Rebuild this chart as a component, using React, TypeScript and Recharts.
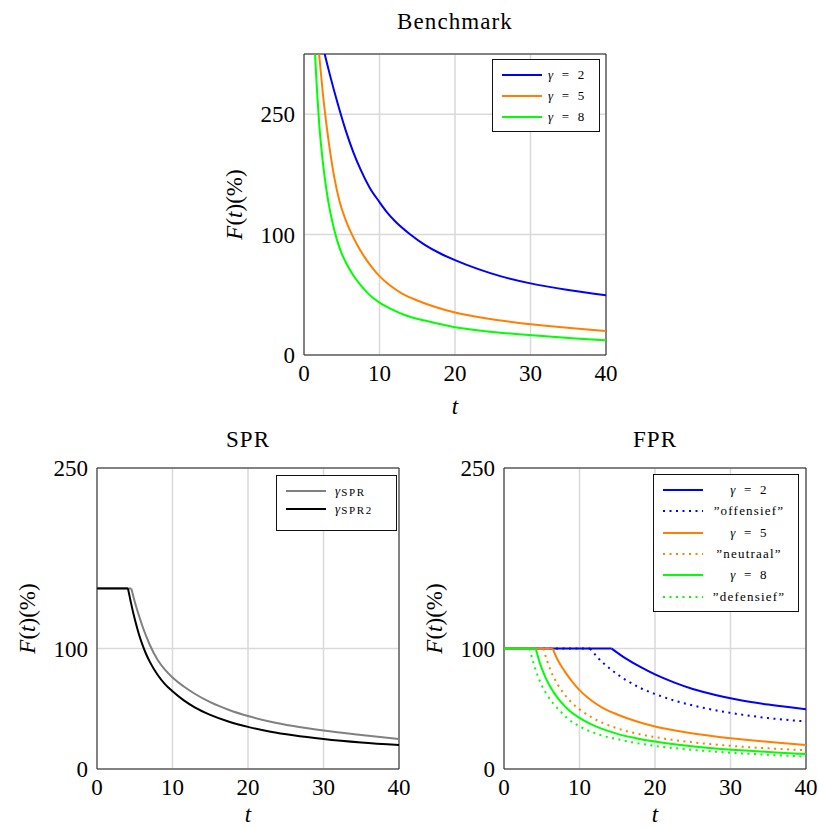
import React from "react";
import { LineChart, Line, XAxis, YAxis, CartesianGrid, ReferenceArea, Legend } from "recharts";

type Pt = [number, number];

const FONT = '"Liberation Serif", "Times New Roman", serif';

// axes
const T_TICKS = [0, 10, 20, 30, 40];
const T_DOMAIN: [number, number] = [0, 40];
const F_DOMAIN: [number, number] = [0, 250];
const benchTickValues = [0, 100, 200];
const benchTickLabels = ["0", "100", "250"];
const lowerTickValues = [0, 100, 250];
const lowerTickLabels = ["0", "100", "250"];

// Benchmark
const benchG2: Pt[] = [[2.3, 261], [2.74, 250], [3.5, 231], [4.5, 208], [5.5, 187], [6.5, 169], [7.5, 154], [8.7, 139], [10, 127], [11, 118.5], [12, 111.5], [14, 100.5], [16, 91.5], [18, 84.5], [20, 78.8], [23, 71.5], [26, 65.5], [30, 59.5], [35, 54], [40, 49.7]];
const benchG5: Pt[] = [[1.8, 264], [2.0, 250], [2.5, 217], [3.0, 190], [3.5, 167], [4.0, 148], [4.73, 127], [5.5, 112.5], [6.2, 102], [7.0, 92], [8.0, 81.5], [9.0, 72.8], [10, 65.5], [11, 59.8], [12, 55], [13, 51], [15, 45.3], [17.5, 39.7], [20, 35.3], [24, 30.5], [28, 27], [32, 24.3], [36, 22], [40, 20]];
const benchG8: Pt[] = [[1.3, 272], [1.46, 250], [1.7, 222], [2.0, 193], [2.5, 160], [3.0, 136], [3.5, 118], [4.0, 104], [4.73, 88.5], [5.5, 77.5], [6.5, 66.5], [7.5, 58], [8.5, 51], [10, 43.5], [11.5, 38.3], [13.6, 32.6], [16, 28.6], [20, 23], [24, 19.8], [28, 17.5], [32, 15.5], [36, 13.8], [40, 12.3]];

// SPR
const sprFlat: Pt[] = [[0, 150], [4.54, 150]];
const sprDecay: Pt[] = [[4.54, 150], [5.0, 139], [5.5, 128.5], [6.0, 119], [6.5, 110.5], [7.0, 103], [8.0, 91], [9, 82.5], [10, 76], [11.5, 68.5], [13, 62.3], [15, 55.5], [17.5, 49], [20, 44], [23, 39.3], [26, 35.7], [30, 32], [35, 28.3], [40, 25]];
const spr2Flat: Pt[] = [[0, 150], [4.1, 150]];
const spr2Decay: Pt[] = [[4.1, 150], [4.5, 138], [5.0, 124.5], [5.5, 113], [6.0, 103.5], [6.5, 95.5], [7.0, 89], [8.0, 78.5], [9, 70.5], [10, 64.5], [11.5, 57], [13, 51], [15, 45], [17.5, 39.3], [20, 35], [23, 31], [26, 28], [30, 24.9], [35, 22], [40, 19.9]];

// FPR
const fprG2Flat: Pt[] = [[0, 100], [14.26, 100]];
const fprG2Decay: Pt[] = [[14.26, 100], [16, 92.3], [18, 85], [20, 78.6], [22.5, 72], [25, 66.5], [28, 61.5], [31, 57.5], [35, 53.5], [40, 49.7]];
const fprOffFlat: Pt[] = [[0, 100], [11.4, 100]];
const fprOffDecay: Pt[] = [[11.4, 100], [12.5, 92], [14, 83.5], [16, 74.5], [18, 67.5], [20, 62.3], [22.5, 57], [25, 52.8], [28, 48.8], [31, 45.6], [35, 42.3], [40, 39.5]];
const fprG5Flat: Pt[] = [[0, 100], [6.45, 100]];
const fprG5Decay: Pt[] = [[6.45, 100], [7, 92], [8, 81.5], [9, 72.8], [10, 65.5], [11, 59.8], [12, 55], [13, 51], [15, 45.3], [17.5, 39.7], [20, 35.3], [24, 30.5], [28, 27], [32, 24.3], [36, 22], [40, 20]];
const fprNeuFlat: Pt[] = [[0, 100], [5.2, 100]];
const fprNeuDecay: Pt[] = [[5.2, 100], [5.7, 90], [6.2, 81.5], [7, 71.5], [8, 62], [9, 55], [10, 49.5], [11.5, 43.3], [13, 38.5], [15, 33.8], [17.5, 29.5], [20, 26.5], [24, 22.8], [28, 20.3], [32, 18.3], [36, 16.8], [40, 15.6]];
const fprG8Flat: Pt[] = [[0, 100], [4.2, 100]];
const fprG8Decay: Pt[] = [[4.2, 100], [4.7, 89], [5.2, 80.5], [5.8, 72], [6.5, 64.5], [7.5, 56], [8.5, 49.5], [10, 42.5], [11.5, 37.3], [13, 33.3], [15, 29.2], [17.5, 25.6], [20, 22.8], [24, 19.5], [28, 17.1], [32, 15.3], [36, 13.8], [40, 12.4]];
const fprDefFlat: Pt[] = [[0, 100], [3.4, 100]];
const fprDefDecay: Pt[] = [[3.4, 100], [3.9, 88], [4.4, 78.5], [5, 69.5], [5.7, 61.5], [6.5, 54.5], [7.5, 47.8], [8.5, 41.5], [10, 35.5], [11.5, 31], [13, 27.7], [15, 24.8], [17.5, 21.6], [20, 19.2], [24, 16.4], [28, 14.4], [32, 12.8], [36, 11.5], [40, 10.3]];

const BLUE = "#0000ff";
const ORANGE = "#ff8000";
const GREEN = "#00ff00";
const GRAY = "#808080";
const BLACK = "#000000";
const DOT = "2 4.5";

type Seg = { pts: Pt[]; curve: "linear" | "monotone" };
type Series = { key: string; color: string; dash?: string; label: React.ReactNode; segs: Seg[] };

const gammaLabel = (n: string) => (
  <span style={{ wordSpacing: 3 }}>
    <span style={{ fontStyle: "italic" }}>γ</span> = {n}
  </span>
);
const subLabel = (s: string) => (
  <span>
    <span style={{ fontStyle: "italic" }}>γ</span>
    <span style={{ fontSize: 11, letterSpacing: 1.6, position: "relative", top: 1 }}>{s}</span>
  </span>
);

const benchSeries: Series[] = [
  { key: "b2", color: BLUE, label: gammaLabel("2"), segs: [{ pts: benchG2, curve: "monotone" }] },
  { key: "b5", color: ORANGE, label: gammaLabel("5"), segs: [{ pts: benchG5, curve: "monotone" }] },
  { key: "b8", color: GREEN, label: gammaLabel("8"), segs: [{ pts: benchG8, curve: "monotone" }] },
];
const sprSeries: Series[] = [
  { key: "s1", color: GRAY, label: subLabel("SPR"), segs: [{ pts: sprFlat, curve: "linear" }, { pts: sprDecay, curve: "monotone" }] },
  { key: "s2", color: BLACK, label: subLabel("SPR2"), segs: [{ pts: spr2Flat, curve: "linear" }, { pts: spr2Decay, curve: "monotone" }] },
];
const fprSeries: Series[] = [
  { key: "f2", color: BLUE, label: gammaLabel("2"), segs: [{ pts: fprG2Flat, curve: "linear" }, { pts: fprG2Decay, curve: "monotone" }] },
  { key: "fo", color: BLUE, dash: DOT, label: "\u201Doffensief\u201D", segs: [{ pts: fprOffFlat, curve: "linear" }, { pts: fprOffDecay, curve: "monotone" }] },
  { key: "f5", color: ORANGE, label: gammaLabel("5"), segs: [{ pts: fprG5Flat, curve: "linear" }, { pts: fprG5Decay, curve: "monotone" }] },
  { key: "fn", color: ORANGE, dash: DOT, label: "\u201Dneutraal\u201D", segs: [{ pts: fprNeuFlat, curve: "linear" }, { pts: fprNeuDecay, curve: "monotone" }] },
  { key: "f8", color: GREEN, label: gammaLabel("8"), segs: [{ pts: fprG8Flat, curve: "linear" }, { pts: fprG8Decay, curve: "monotone" }] },
  { key: "fd", color: GREEN, dash: DOT, label: "\u201Ddefensief\u201D", segs: [{ pts: fprDefFlat, curve: "linear" }, { pts: fprDefDecay, curve: "monotone" }] },
];

const toRows = (pts: Pt[]) => pts.map(([t, f]) => ({ t, f }));

type LegendBox = { left: number; top: number; width: number; height: number; firstRow: number; rowGap: number; textLeft: number; textAlign: "left" | "center"; textWidth: number };

function LegendContent({ series, box }: { series: Series[]; box: LegendBox }) {
  return (
    <div
      style={{
        position: "relative",
        width: box.width,
        height: box.height,
        boxSizing: "border-box",
        border: "1px solid #111",
        background: "#fff",
        fontFamily: FONT,
        fontSize: 13,
        letterSpacing: 1.2,
        color: "#000",
      }}
    >
      {series.map((s, i) => {
        const cy = box.firstRow + i * box.rowGap - 1;
        return (
          <div key={s.key} style={{ position: "absolute", left: 0, top: cy - 10, height: 20, width: box.width - 2 }}>
            <svg width={42} height={20} style={{ position: "absolute", left: 7.5, top: 0 }}>
              <line x1={1} y1={10} x2={41} y2={10} stroke={s.color} strokeWidth={2} strokeDasharray={s.dash} />
            </svg>
            <div
              style={{
                position: "absolute",
                left: box.textLeft,
                width: box.textWidth,
                top: 0,
                height: 20,
                lineHeight: "20px",
                textAlign: box.textAlign,
                whiteSpace: "nowrap",
              }}
            >
              {s.label}
            </div>
          </div>
        );
      })}
    </div>
  );
}

type PanelProps = {
  left: number;
  top: number;
  width: number;
  height: number;
  marginTop: number;
  marginRight: number;
  yAxisWidth: number;
  xAxisHeight: number;
  xLabelOffset: number;
  title: string;
  titleTop: number;
  yTicks: number[];
  yTickLabels: string[];
  series: Series[];
  legend: LegendBox;
};

function Panel(p: PanelProps) {
  const plotW = p.width - p.marginRight - p.yAxisWidth;
  const plotH = p.height - p.marginTop - p.xAxisHeight;
  const plotLeft = p.yAxisWidth;
  const plotCx = plotLeft + plotW / 2;
  const yLabX = plotLeft - 62;
  const yLabY = p.marginTop + plotH / 2;
  const xLabY = p.marginTop + plotH + p.xLabelOffset;

  return (
    <div style={{ position: "absolute", left: p.left, top: p.top, width: p.width, height: p.height }}>
      <div
        style={{
          position: "absolute",
          left: plotCx - 100,
          width: 200,
          top: p.titleTop,
          textAlign: "center",
          fontFamily: FONT,
          fontSize: 23,
          letterSpacing: 1.1,
          lineHeight: 1,
          color: "#000",
        }}
      >
        {p.title}
      </div>
      <LineChart width={p.width} height={p.height} margin={{ top: p.marginTop, right: p.marginRight, bottom: 0, left: 0 }}>
        <CartesianGrid stroke="#d9d9d9" strokeWidth={1.5} />
        <XAxis
          type="number"
          dataKey="t"
          domain={T_DOMAIN}
          ticks={T_TICKS}
          allowDataOverflow
          height={p.xAxisHeight}
          axisLine={false}
          tickLine={false}
          tickSize={6}
          tickMargin={4}
          tick={{ fontSize: 23, fontFamily: FONT, fill: "#000" }}
          label={{
            content: () => (
              <text x={plotCx} y={xLabY} textAnchor="middle" fontFamily={FONT} fontSize={23} fontStyle="italic" fill="#000">
                t
              </text>
            ),
          }}
        />
        <YAxis
          type="number"
          domain={F_DOMAIN}
          ticks={p.yTicks}
          allowDataOverflow
          width={p.yAxisWidth}
          axisLine={false}
          tickLine={false}
          tickSize={6}
          tickMargin={3}
          tick={{ fontSize: 23, fontFamily: FONT, fill: "#000" }}
          tickFormatter={(v: number) => {
            const i = p.yTicks.indexOf(v);
            return i >= 0 ? p.yTickLabels[i] : String(v);
          }}
          label={{
            content: () => (
              <text
                x={yLabX}
                y={yLabY}
                transform={`rotate(-90 ${yLabX} ${yLabY})`}
                textAnchor="middle"
                fontFamily={FONT}
                fontSize={23}
                fill="#000"
              >
                <tspan fontStyle="italic">F</tspan>
                <tspan>(</tspan>
                <tspan fontStyle="italic">t</tspan>
                <tspan>)(%)</tspan>
              </text>
            ),
          }}
        />
        {p.series.flatMap((s) =>
          s.segs.map((seg, j) => (
            <Line
              key={`${s.key}-${j}`}
              data={toRows(seg.pts)}
              dataKey="f"
              name={`${s.key}-${j}`}
              type={seg.curve}
              stroke={s.color}
              strokeWidth={2}
              strokeDasharray={s.dash}
              dot={false}
              activeDot={false}
              isAnimationActive={false}
              legendType="none"
            />
          ))
        )}
        <ReferenceArea x1={0} x2={40} y1={0} y2={250} fill="none" stroke="#222" strokeWidth={1} />
        <Legend
          layout="vertical"
          align="center"
          verticalAlign="middle"
          wrapperStyle={{ left: p.legend.left, top: p.legend.top, width: p.legend.width, height: p.legend.height }}
          content={() => <LegendContent series={p.series} box={p.legend} />}
        />
      </LineChart>
    </div>
  );
}

export default function App() {
  return (
    <div style={{ position: "absolute", left: 0, top: 0, width: 819, height: 827, background: "#fff" }}>
      <Panel
        left={200}
        top={0}
        width={420}
        height={420}
        marginTop={54}
        marginRight={14}
        yAxisWidth={104}
        xAxisHeight={65}
        xLabelOffset={59}
        title="Benchmark"
        titleTop={10}
        yTicks={benchTickValues}
        yTickLabels={benchTickLabels}
        series={benchSeries}
        legend={{ left: 292, top: 59, width: 108, height: 73, firstRow: 16, rowGap: 21, textLeft: 55, textAlign: "left", textWidth: 50 }}
      />
      <Panel
        left={0}
        top={420}
        width={419}
        height={407}
        marginTop={48}
        marginRight={20}
        yAxisWidth={97}
        xAxisHeight={58}
        xLabelOffset={53}
        title="SPR"
        titleTop={7.5}
        yTicks={lowerTickValues}
        yTickLabels={lowerTickLabels}
        series={sprSeries}
        legend={{ left: 276, top: 55, width: 121, height: 56, firstRow: 16, rowGap: 18, textLeft: 58, textAlign: "left", textWidth: 60 }}
      />
      <Panel
        left={410}
        top={420}
        width={409}
        height={407}
        marginTop={48}
        marginRight={13}
        yAxisWidth={94}
        xAxisHeight={58}
        xLabelOffset={53}
        title="FPR"
        titleTop={7.5}
        yTicks={lowerTickValues}
        yTickLabels={lowerTickLabels}
        series={fprSeries}
        legend={{ left: 243, top: 54, width: 146, height: 138, firstRow: 16, rowGap: 21.3, textLeft: 50, textAlign: "center", textWidth: 90 }}
      />
    </div>
  );
}
